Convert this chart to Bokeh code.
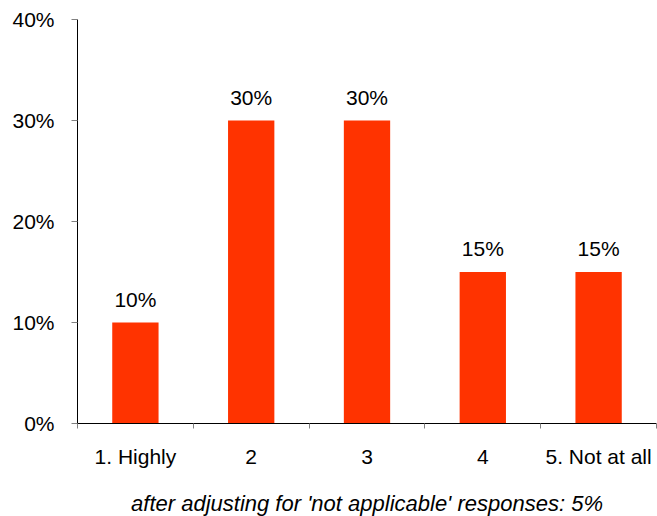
from bokeh.plotting import figure
from bokeh.models import (ColumnDataSource, LinearAxis, FixedTicker, NumeralTickFormatter,
                          LabelSet, Range1d)
from bokeh.core.properties import value
from bokeh.embed import file_html
from bokeh.resources import INLINE

categories = ["1. Highly", "2", "3", "4", "5. Not at all"]
values = [0.10, 0.30, 0.30, 0.15, 0.15]
value_labels = ["10%", "30%", "30%", "15%", "15%"]
y_ticks = [0.0, 0.1, 0.2, 0.3, 0.4]
caption = "after adjusting for 'not applicable' responses: 5%"

FONT = "Liberation Sans"
FS = "21px"
xs = [i + 0.5 for i in range(len(categories))]
src = ColumnDataSource(dict(x=xs, top=values, lab=value_labels))

p = figure(frame_width=579, frame_height=404, output_backend="svg", toolbar_location=None,
           x_range=Range1d(0, len(categories)), y_range=Range1d(0, 0.40),
           x_axis_type=None, y_axis_type=None,
           min_border_left=77, min_border_right=1, min_border_top=19, min_border_bottom=93)
p.outline_line_color = None
p.xgrid.visible = False
p.ygrid.visible = False
p.background_fill_color = "white"
p.border_fill_color = "white"

p.vbar(x="x", top="top", width=0.4, source=src, fill_color="#FF3300", line_color=None)

labels = LabelSet(x="x", y="top", text="lab", source=src, text_align="center",
                  text_baseline="alphabetic", y_offset=16, text_font=value(FONT),
                  text_font_size=value(FS), text_color="#000000")
p.add_layout(labels)

yaxis = LinearAxis(ticker=FixedTicker(ticks=y_ticks, minor_ticks=[]),
                   formatter=NumeralTickFormatter(format="0%"))
yaxis.axis_line_color = "black"
yaxis.major_tick_line_color = "#808080"
yaxis.major_tick_out = 6
yaxis.major_tick_in = 0
yaxis.minor_tick_line_color = None
yaxis.major_label_standoff = 17
yaxis.major_label_text_font = FONT
yaxis.major_label_text_font_size = FS
yaxis.major_label_text_color = "black"
p.add_layout(yaxis, "left")

xaxis = LinearAxis(ticker=FixedTicker(ticks=xs, minor_ticks=list(range(len(categories) + 1))),
                   major_label_overrides={x: c for x, c in zip(xs, categories)})
xaxis.axis_line_color = "black"
xaxis.major_tick_line_color = None
xaxis.major_tick_out = 5
xaxis.major_tick_in = 0
xaxis.minor_tick_line_color = "#808080"
xaxis.minor_tick_out = 5
xaxis.minor_tick_in = 0
xaxis.major_label_standoff = 16
xaxis.major_label_text_font = FONT
xaxis.major_label_text_font_size = FS
xaxis.major_label_text_color = "black"
xaxis.axis_label = caption
xaxis.axis_label_text_font = FONT
xaxis.axis_label_text_font_size = "22px"
xaxis.axis_label_text_font_style = "italic"
xaxis.axis_label_text_color = "black"
xaxis.axis_label_standoff = 20
p.add_layout(xaxis, "below")

open("out.html", "w").write(file_html(p, INLINE))
